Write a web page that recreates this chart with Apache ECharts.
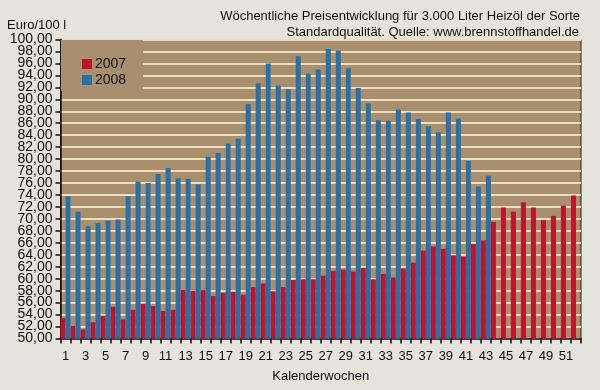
<!DOCTYPE html>
<html><head><meta charset="utf-8">
<script src="https://cdn.jsdelivr.net/npm/echarts@6/dist/echarts.min.js"></script>
<style>html,body{margin:0;padding:0;background:#e6e2dc}#c{width:600px;height:390px}</style>
</head><body><div id="c"></div>
<script>
var weeks = [];
for (var i = 1; i <= 52; i++) weeks.push(String(i));
var y2007 = [53.4,52.1,51.5,52.7,53.8,55.3,53.2,54.8,55.8,55.4,
             54.6,54.8,58.1,58.0,58.1,57.1,57.6,57.8,57.3,58.6,
             59.2,57.9,58.6,59.8,59.9,59.9,60.5,61.3,61.5,61.2,
             61.8,59.9,60.8,60.2,61.7,62.7,64.7,65.4,65.0,63.9,
             63.7,65.8,66.4,69.5,71.9,71.2,72.8,71.9,69.8,70.5,
             72.2,73.9];
var y2008 = [73.8,71.2,68.8,69.3,69.7,69.9,73.8,76.2,76.0,77.5,
             78.5,76.8,76.7,75.8,80.4,81.0,82.6,83.4,89.2,92.7,
             96.0,92.3,91.7,97.2,94.3,95.0,98.4,98.1,95.2,91.9,
             89.3,86.5,86.4,88.3,87.8,86.7,85.5,84.5,87.8,86.8,
             79.7,75.4,77.2];
var titleLines = ['Wöchentliche Preisentwicklung für 3.000 Liter Heizöl der Sorte',
                  'Standardqualität. Quelle: www.brennstoffhandel.de'];
var FONT = 'Liberation Sans, Arial, sans-serif';
var tStyle = {fontSize: 13, fontWeight: 'normal', color: '#111', fontFamily: FONT};
function fmt(parity) {
  return function (v) {
    var k = Math.round((v - 50) / 2);
    if (k % 2 !== parity) return '';
    return v.toFixed(2).replace('.', ',');
  };
}
var chart = echarts.init(document.getElementById('c'), null, {renderer:'canvas'});
chart.setOption({
  backgroundColor: '#e6e2dc',
  animation: false,
  textStyle: {fontFamily: FONT},
  title: [{
    text: titleLines[0], right: 20, top: 10, padding: 0, textStyle: tStyle
  },{
    text: titleLines[1], right: 21, top: 26, padding: 0, textStyle: tStyle
  },{
    text: 'Euro/100 l', left: 7, top: 19, padding: 0, textStyle: tStyle
  }],
  legend: {
    orient: 'vertical', left: 61, top: 40,
    padding: [17, 17, 4, 21],
    itemGap: 2, itemWidth: 10, itemHeight: 10,
    backgroundColor: '#a88f6e',
    icon: 'rect',
    textStyle: {fontSize: 14, color: '#111', lineHeight: 12, padding: [0,0,0,-2], fontFamily: FONT},
    data: ['2007', '2008']
  },
  grid: {left: 60.5, right: 19, top: 39.5, bottom: 51.5, show: true,
         backgroundColor: '#a88f6e', borderColor: '#222', borderWidth: 1},
  xAxis: {
    type: 'category', data: weeks,
    name: 'Kalenderwochen', nameLocation: 'middle', nameGap: 31,
    nameTextStyle: {fontSize: 13, color: '#111', fontFamily: FONT},
    axisLine: {lineStyle: {color: '#111', width: 1.5}},
    axisTick: {show: true, interval: 0, length: 5, lineStyle: {color: '#111', width: 1.5}},
    axisLabel: {interval: 1, fontSize: 13, color: '#111', margin: 11, fontFamily: FONT},
    splitLine: {show: false}
  },
  yAxis: [{
    type: 'value', min: 50, max: 100, interval: 2, position: 'left',
    axisLine: {show: true, lineStyle: {color: '#111', width: 1.5}},
    axisTick: {show: true, length: 5, lineStyle: {color: '#111', width: 1.5}},
    axisLabel: {fontSize: 14, color: '#111', margin: 8, fontFamily: FONT,
      showMinLabel: true, showMaxLabel: true, formatter: fmt(0)},
    splitLine: {show: true, lineStyle: {color: '#efdcbc', width: 2}}
  },{
    type: 'value', min: 50, max: 100, interval: 2, position: 'left', offset: 0,
    axisLine: {show: false}, axisTick: {show: false},
    axisLabel: {fontSize: 14, color: '#111', margin: 8, fontFamily: FONT,
      showMinLabel: true, showMaxLabel: true, formatter: fmt(1)},
    splitLine: {show: false}
  }],
  series: [{
    name: '2007', type: 'bar', data: y2007, yAxisIndex: 0,
    itemStyle: {color: '#c3132b'},
    barGap: '0%', barCategoryGap: '0%'
  },{
    name: '2008', type: 'bar', data: y2008, yAxisIndex: 0,
    itemStyle: {color: '#2a70a8'},
    barGap: '0%', barCategoryGap: '0%'
  }]
});
</script></body></html>
